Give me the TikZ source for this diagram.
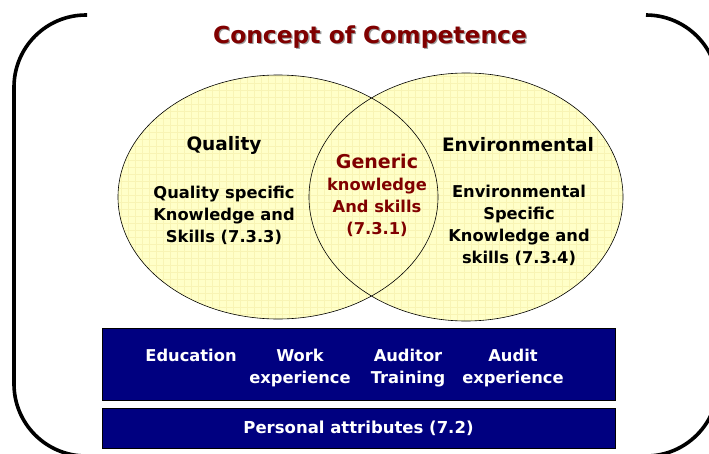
\documentclass[tikz,border=0pt]{standalone}
\usepackage{fontspec}
\setmainfont{DejaVu Sans}
\usetikzlibrary{positioning}
\definecolor{titlered}{HTML}{800000}
\definecolor{vennfill}{HTML}{FFFFC8}
\definecolor{venngrid}{HTML}{F8F4B4}
\definecolor{barblue}{HTML}{000080}

\tikzset{
  bracket/.style={line width=3.6pt, rounded corners=72pt},
  head/.style={font=\bfseries\fontsize{18.5}{22}\selectfont, inner sep=0pt},
  vtext/.style={font=\bfseries\fontsize{16.3}{22}\selectfont, align=center, inner sep=0pt},
  bar/.style={draw=black, line width=0.8pt, fill=barblue, inner sep=0pt},
  btext/.style={text=white, font=\bfseries\fontsize{16.3}{22}\selectfont, align=center, inner sep=0pt},
}

\begin{document}
\begin{tikzpicture}[x=1pt, y=-1pt]
    \useasboundingbox (0,0) rectangle (709,453);
    \clip (0,0) rectangle (709,453);

    % Brackets
    \draw[bracket] (87,15) -| (14,456) -- (92,456);
    \draw[bracket] (646,15) -| (718,456) -- (640,456);

    % Title
    \node[text=black!40, font=\bfseries\fontsize{23.4}{26}\selectfont] (titleshadow) at (371.3,38.3) {Concept of Competence};
    \node[text=titlered, font=\bfseries\fontsize{23.4}{26}\selectfont] (title) at (370,37) {Concept of Competence};

    % Circles
    \fill[vennfill] (278,197) ellipse [x radius=160, y radius=122];
    \fill[vennfill] (466,197) ellipse [x radius=157, y radius=124];
    \begin{scope}
        \clip (278,197) ellipse [x radius=160, y radius=122]
              (466,197) ellipse [x radius=157, y radius=124];
        \foreach \gx in {100,107,...,640}
            \draw[venngrid, line width=0.3pt] (\gx,60) -- (\gx,330);
        \foreach \gy in {62,69,...,330}
            \draw[venngrid, line width=0.3pt] (100,\gy) -- (640,\gy);
    \end{scope}
    \draw[line width=0.6pt] (278,197) ellipse [x radius=160, y radius=122];
    \draw[line width=0.6pt] (466,197) ellipse [x radius=157, y radius=124];

    % Circle texts
    \node[head] (qualhead) at (224,145) {Quality};
    \node[vtext] (qualbody) at (224,215) {Quality specific\\Knowledge and\\Skills (7.3.3)};
    \node[head] (envhead) at (518,145) {Environmental};
    \node[vtext] (envbody) at (519,225) {Environmental\\Specific\\Knowledge and\\skills (7.3.4)};
    \node[vtext, text=titlered] (generic) at (377,195)
        {{\fontsize{19}{22}\selectfont Generic}\\knowledge\\And skills\\(7.3.1)};

    % Bars
    \node[bar, minimum width=513pt, minimum height=72pt] (skillbar) at (358.5,364) {};
    \node[bar, minimum width=513pt, minimum height=40pt, below=8pt of skillbar,
          text=white, font=\bfseries\fontsize{16.5}{22}\selectfont] (personal) {Personal attributes (7.2)};

    \node[btext, anchor=north] (education) at (191,349) {Education};
    \node[btext, anchor=north] (work) at (300,349) {Work\\experience};
    \node[btext, anchor=north] (training) at (408,349) {Auditor\\Training};
    \node[btext, anchor=north] (auditexp) at (513,349) {Audit\\experience};
\end{tikzpicture}
\end{document}
